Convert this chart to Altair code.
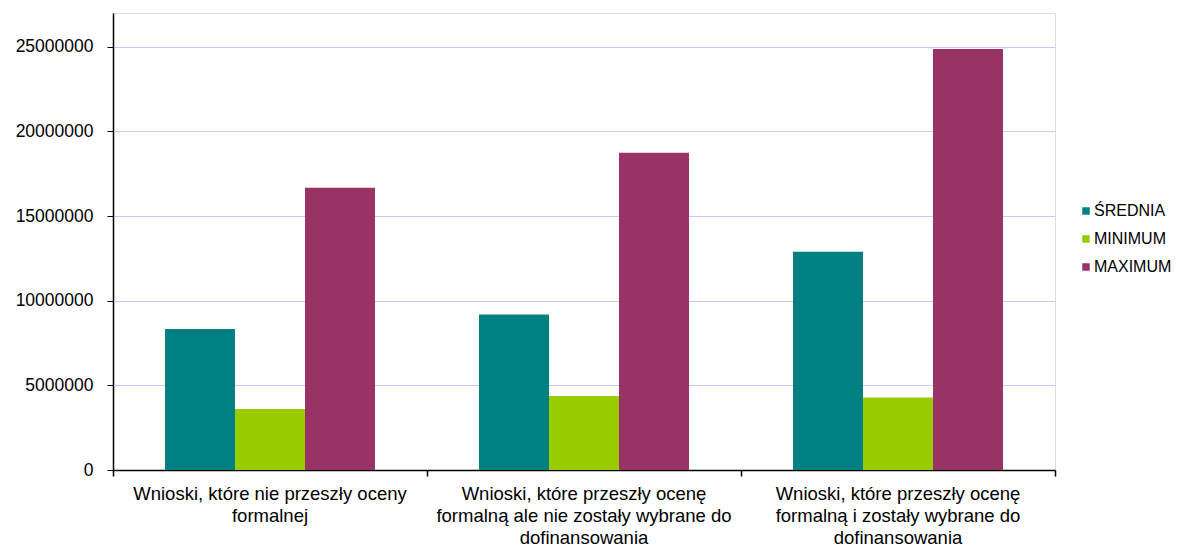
import altair as alt
import pandas as pd

categories = [
    "Wnioski, które nie przeszły oceny|formalnej",
    "Wnioski, które przeszły ocenę|formalną ale nie zostały wybrane do|dofinansowania",
    "Wnioski, które przeszły ocenę|formalną i zostały wybrane do|dofinansowania",
]
series = ["ŚREDNIA", "MINIMUM", "MAXIMUM"]
srednia = [8330000, 9190000, 12900000]
minimum = [3600000, 4370000, 4290000]
maximum = [16670000, 18740000, 24880000]
colors = ["#008080", "#99CC00", "#993366"]
y_ticks = [0, 5000000, 10000000, 15000000, 20000000, 25000000]

rows = []
for i, c in enumerate(categories):
    for s, vals in zip(series, [srednia, minimum, maximum]):
        rows.append({"kategoria": c, "seria": s, "wartosc": vals[i]})
df = pd.DataFrame(rows)

FONT = "Liberation Sans"
W = 942

chart = alt.Chart(df).mark_bar().encode(
    x=alt.X(
        "kategoria:N",
        sort=categories,
        title=None,
        scale=alt.Scale(paddingInner=0, paddingOuter=0),
        axis=alt.Axis(
            labelAngle=0,
            labelExpr="split(datum.label, '|')",
            labelFont=FONT,
            labelFontSize=18.5,
            labelLineHeight=22,
            labelColor="#000000",
            labelLimit=400,
            labelPadding=8,
            bandPosition=1,
            tickExtra=True,
            ticks=True,
            tickSize=6,
            tickWidth=1.5,
            tickColor="#000000",
            domainColor="#000000",
            domainWidth=1.5,
            grid=False,
        ),
    ),
    xOffset=alt.XOffset(
        "seria:N", sort=series, scale=alt.Scale(paddingInner=0, paddingOuter=0.743)
    ),
    y=alt.Y(
        "wartosc:Q",
        title=None,
        scale=alt.Scale(domain=[0, 27000000], nice=False),
        axis=alt.Axis(
            values=y_ticks,
            format="d",
            labelFont=FONT,
            labelFontSize=17.5,
            labelColor="#000000",
            labelPadding=14,
            tickSize=6,
            tickColor="#000000",
            domainColor="#000000",
            domainWidth=1.5,
            gridColor="#c8c8ff",
            gridWidth=1,
        ),
    ),
    color=alt.Color(
        "seria:N",
        sort=series,
        scale=alt.Scale(domain=series, range=colors),
        legend=alt.Legend(
            title=None,
            orient="none",
            legendX=965,
            legendY=190,
            symbolType="square",
            symbolSize=56,
            symbolStrokeWidth=0,
            symbolOffset=0,
            labelOffset=0,
            labelFont=FONT,
            labelFontSize=16,
            labelColor="#000000",
            rowPadding=12,
            padding=0,
        ),
    ),
).properties(
    width=W,
    height=457,
    padding={"left": 7, "top": 5, "right": 0, "bottom": 0},
).configure_view(stroke=None).configure(background="#ffffff")

chart.save("out.html", embed_options={"renderer": "svg", "actions": False})
